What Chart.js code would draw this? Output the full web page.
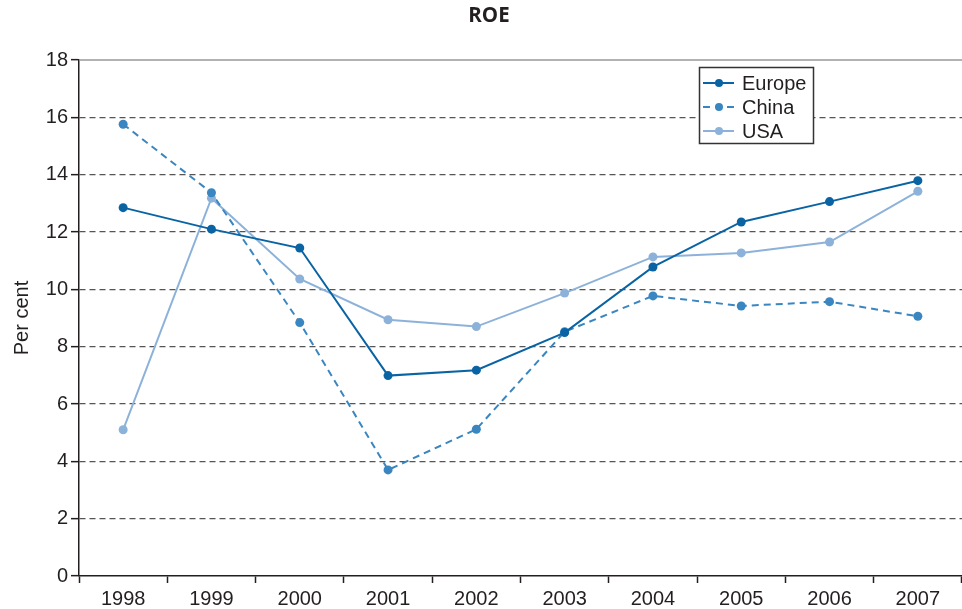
<!DOCTYPE html>
<html>
<head>
<meta charset="utf-8">
<script src="https://cdn.jsdelivr.net/npm/chart.js@4.4.1/dist/chart.umd.min.js"></script>
<style>
  html, body { margin: 0; padding: 0; background: #fff; overflow: hidden; }
  #wrap { width: 962px; height: 609px; }
</style>
</head>
<body>
<div id="wrap"><canvas id="roe-chart"></canvas></div>
<script>
const years = ["1998", "1999", "2000", "2001", "2002", "2003", "2004", "2005", "2006", "2007"];
const europe = [12.85, 12.10, 11.44, 6.99, 7.18, 8.49, 10.78, 12.35, 13.06, 13.79];
const china = [15.76, 13.37, 8.84, 3.70, 5.12, 8.52, 9.77, 9.42, 9.57, 9.06];
const usa = [5.10, 13.18, 10.36, 8.94, 8.70, 9.87, 11.13, 11.27, 11.65, 13.42];
const yTicks = [0, 2, 4, 6, 8, 10, 12, 14, 16, 18];

const FONT = "'Liberation Sans', Arial, sans-serif";

// title and top frame line, drawn by hand so they sit where the original has them
const framePlugin = {
  id: "frame",
  afterDraw(chart) {
    const ctx = chart.ctx;
    const area = chart.chartArea;
    ctx.save();
    ctx.strokeStyle = "#999999";
    ctx.lineWidth = 1.5;
    ctx.beginPath();
    ctx.moveTo(area.left, area.top);
    ctx.lineTo(area.right, area.top);
    ctx.stroke();

    ctx.fillStyle = "#231f20";
    ctx.font = "bold 20.5px 'Open Sans', sans-serif";
    ctx.textAlign = "center";
    ctx.textBaseline = "middle";
    ctx.fillText("ROE", 489, 16);
    ctx.restore();
  }
};

// legend box inside the plot, top right
const legendBoxPlugin = {
  id: "legendBox",
  afterDraw(chart) {
    const ctx = chart.ctx;
    const x = 699.5, y = 67.5, w = 114, h = 76;
    ctx.save();
    ctx.fillStyle = "#ffffff";
    ctx.fillRect(x, y, w, h);
    ctx.strokeStyle = "#333333";
    ctx.lineWidth = 1.5;
    ctx.strokeRect(x, y, w, h);
    ctx.font = "20px " + FONT;
    ctx.textBaseline = "middle";
    ctx.textAlign = "left";
    chart.data.datasets.forEach((ds, i) => {
      const rowY = 83 + i * 24;
      ctx.strokeStyle = ds.borderColor;
      ctx.lineWidth = 2;
      ctx.setLineDash(ds.borderDash || []);
      ctx.beginPath();
      ctx.moveTo(703, rowY);
      ctx.lineTo(734, rowY);
      ctx.stroke();
      ctx.setLineDash([]);
      ctx.fillStyle = ds.backgroundColor;
      ctx.beginPath();
      ctx.arc(719, rowY, 4, 0, Math.PI * 2);
      ctx.fill();
      ctx.fillStyle = "#231f20";
      ctx.fillText(ds.label, 742, rowY + 1);
    });
    ctx.restore();
  }
};

new Chart(document.getElementById("roe-chart"), {
  type: "line",
  data: {
    labels: years,
    datasets: [
      {
        label: "Europe",
        data: europe,
        borderColor: "#0a64a4",
        backgroundColor: "#0a64a4",
        borderWidth: 2,
        pointRadius: 4.5,
        pointBorderWidth: 0,
        pointHoverRadius: 4.5,
        tension: 0
      },
      {
        label: "China",
        data: china,
        borderColor: "#3a86c0",
        backgroundColor: "#3a86c0",
        borderWidth: 2,
        borderDash: [7, 5],
        pointRadius: 4.5,
        pointBorderWidth: 0,
        pointHoverRadius: 4.5,
        tension: 0
      },
      {
        label: "USA",
        data: usa,
        borderColor: "#8db2da",
        backgroundColor: "#8db2da",
        borderWidth: 2,
        pointRadius: 4.5,
        pointBorderWidth: 0,
        pointHoverRadius: 4.5,
        tension: 0
      }
    ]
  },
  options: {
    responsive: true,
    maintainAspectRatio: false,
    animation: false,
    layout: { autoPadding: false, padding: { top: 60, right: 0, left: 0, bottom: 0 } },
    plugins: {
      legend: { display: false },
      title: { display: false },
      tooltip: { enabled: false }
    },
    scales: {
      x: {
        offset: true,
        grid: {
          offset: true,
          drawOnChartArea: false,
          drawTicks: true,
          tickLength: 7,
          tickColor: "#231f20",
          tickWidth: 1.5
        },
        border: { color: "#231f20", width: 1.5 },
        ticks: {
          color: "#231f20",
          font: { family: FONT, size: 20 },
          padding: 4,
          maxRotation: 0,
          autoSkip: false
        },
        afterFit(scale) { scale.height = 33; }
      },
      y: {
        min: 0,
        max: 18,
        afterBuildTicks(scale) {
          scale.ticks = yTicks.map((v) => ({ value: v }));
        },
        grid: {
          color: (c) => (c.tick && (c.tick.value === 0 || c.tick.value === 18)) ? "rgba(0,0,0,0)" : "#555555",
          lineWidth: 1.3,
          tickLength: 8,
          tickColor: "#231f20",
          tickWidth: 1.5,
          tickBorderDash: []
        },
        border: { color: "#231f20", width: 1.5, dash: [6, 4] },
        ticks: {
          color: "#231f20",
          font: { family: FONT, size: 20 },
          padding: 3
        },
        title: {
          display: true,
          text: "Per cent",
          color: "#231f20",
          font: { family: FONT, size: 20 },
          padding: { top: 10, bottom: 0 }
        },
        afterFit(scale) { scale.width = 79; }
      }
    }
  },
  plugins: [framePlugin, legendBoxPlugin]
});
</script>
</body>
</html>
